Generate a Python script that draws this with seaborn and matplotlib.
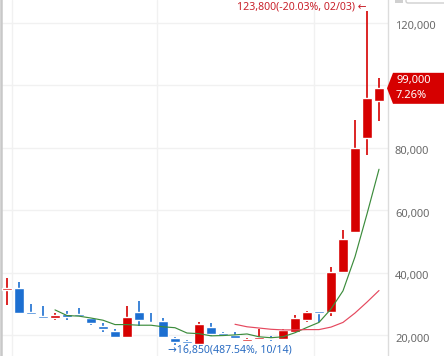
import numpy as np
import pandas as pd
import matplotlib
matplotlib.use("Agg")
import matplotlib.pyplot as plt
import matplotlib.transforms as mtransforms
from matplotlib.patches import Polygon, Rectangle, FancyBboxPatch
import seaborn as sns

# weekly candles (week 15 = 10/14 low, week 31 = 02/03 high)
opens = [34500, 35000, 27000, 26000, 25600, 26700, 26700, 25600, 22900, 21400,
         19500, 27500, 24300, 24500, 19000, 17800, 17200, 22700, 20600, 20100,
         18300, 18900, 19000, 18700, 21100, 24900, 27800, 27500, 40300, 53100,
         83000, 95000]
closes = [34800, 27000, 26800, 25600, 26400, 25700, 26100, 23800, 21900, 19500,
          25900, 24900, 23800, 19500, 17900, 17600, 23500, 20300, 20100, 19200,
          18800, 19300, 18700, 21700, 25400, 27500, 27200, 40300, 50700, 79800,
          95800, 99000]
highs = [38300, 37100, 29900, 29300, 27200, 27700, 28600, 25600, 23900, 22000,
         29300, 30900, 27000, 25400, 19500, 18500, 24100, 23800, 21100, 20900,
         19000, 21900, 19700, 22000, 26500, 27600, 27800, 41700, 53700, 88900,
         123800, 102200]
lows = [29700, 27000, 26800, 25400, 24900, 24900, 25800, 23300, 21100, 19500,
        19000, 23000, 23800, 19500, 16850, 17000, 17200, 19800, 20100, 19200,
        18000, 18900, 18100, 18700, 21100, 24100, 24300, 26100, 40300, 53100,
        77700, 88600]

# moving average lines as drawn on the chart
ma_short = [None, None, None, None, 28100, 26300, 26100, 25500, 24800, 23400,
            23400, 23200, 23200, 22700, 22400, 20700, 20500, 19800, 19900, 20100,
            20400, 19500, 19200, 19500, 20800, 22500, 24100, 28400, 34200, 45100,
            58800, 73100]
ma_long = [None] * 19 + [23500, 22700, 22300, 21900, 21700, 21700, 21800, 21800,
                         22600, 24100, 27100, 30600, 34300]

grid_y = [20000, 40000, 60000, 80000, 100000, 120000]
# the 100,000 label sits under the price badge, so it is not shown
label_y = [20000, 40000, 60000, 80000, 120000]
x_grid = [0.45, 12.5, 25.6]

last_price = "99,000"
last_change = "7.26%"
high_label = "123,800(-20.03%, 02/03) \u2190"
low_label = "\u219216,850(487.54%, 10/14)"

UP = "#d60000"
DOWN = "#1c6fd1"

sns.set_theme(style="white")
plt.rcParams['font.family'] = ['Noto Sans', 'DejaVu Sans']

df = pd.DataFrame({"idx": np.arange(len(opens)), "open": opens, "close": closes,
                   "high": highs, "low": lows,
                   "ma5": pd.to_numeric(pd.Series(ma_short), errors="coerce"),
                   "ma20": pd.to_numeric(pd.Series(ma_long), errors="coerce")})

fig = plt.figure(figsize=(4.44, 3.56), dpi=100)
ax = fig.add_axes([1 / 444, 0, 387 / 444, 1])

for v in grid_y:
    ax.axhline(v, color="#f1f1f1", lw=1, zorder=0)
for v in x_grid:
    ax.axvline(v, color="#f1f1f1", lw=1, zorder=0)

# candles
for _, r in df.iterrows():
    up = r["close"] >= r["open"]
    c = UP if up else DOWN
    ax.vlines(r["idx"], r["low"], r["high"], color=c, lw=1.2, zorder=2)
    lo = min(r["open"], r["close"])
    h = max(abs(r["close"] - r["open"]), 550)
    ax.bar(r["idx"], h, bottom=lo, width=0.86, color=c, zorder=3)

sns.lineplot(data=df, x="idx", y="ma5", color="#3c8c3c", lw=0.85, ax=ax, zorder=4)
sns.lineplot(data=df, x="idx", y="ma20", color="#e5485e", lw=0.85, ax=ax, zorder=4)

ax.set_xlim(-0.5, 31.75)
ax.set_ylim(13350, 127260)
ax.set_xlabel("")
ax.set_ylabel("")
ax.set_xticks([])
ax.set_yticks([])
for s in ["top", "bottom"]:
    ax.spines[s].set_visible(False)
ax.spines["left"].set_color("#c8c8c8")
ax.spines["left"].set_linewidth(1.8)
ax.spines["right"].set_color("#dcdcdc")
ax.spines["right"].set_linewidth(1)

# right side price labels
tr = mtransforms.blended_transform_factory(ax.transAxes, ax.transData)
for v in label_y:
    ax.text(1.018, v - 1300, f"{v:,}", transform=tr, ha="left", va="center",
            fontsize=8, color="#6a6a6a", clip_on=False)

# high / low markers
i_hi = int(np.argmax(highs))
i_lo = int(np.argmin(lows))
ax.text(i_hi - 0.05, highs[i_hi] + 1200, high_label, ha="right", va="center",
        fontsize=7.6, color="#c8202a")
ax.text(i_lo - 0.6, lows[i_lo] - 1600, low_label, ha="left", va="center",
        fontsize=7.6, color="#2a6cc2")

# current price badge
fig.canvas.draw()
yc = ax.transData.transform((0, closes[-1]))[1]
H = 356
pts = [(387, yc), (393, yc + 15.5), (444, yc + 15.5), (444, yc - 15.5), (393, yc - 15.5)]
badge = Polygon(pts, closed=True, transform=None, facecolor=UP, edgecolor="none", zorder=5)
fig.patches.append(badge)
fig.text(396 / 444, (yc + 7.5) / H, last_price, ha="left", va="center",
         fontsize=8, color="white", zorder=6)
fig.text(396 / 444, (yc - 7.5) / H, last_change, ha="left", va="center",
         fontsize=8, color="white", zorder=6)

# bits of the toolbar peeking in at the top
fig.patches.append(Rectangle((395, H - 2.5), 8, 3, transform=None,
                             facecolor="#d0d0d0", edgecolor="none", zorder=5))
fig.patches.append(FancyBboxPatch((406, H - 3), 40, 6, boxstyle="round,pad=0,rounding_size=2",
                                  transform=None, facecolor="white",
                                  edgecolor="#cfcfcf", lw=1, zorder=5))

fig.savefig("out.png", dpi=100)
